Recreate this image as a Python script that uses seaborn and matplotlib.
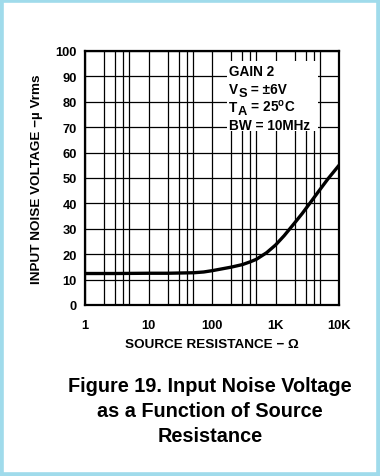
'''
Input noise voltage vs source resistance (datasheet figure 19)
'''

import matplotlib
matplotlib.use('Agg')
import matplotlib.pyplot as plt
from matplotlib.patches import Rectangle
from matplotlib.ticker import LogLocator, FixedLocator, NullFormatter
import seaborn as sns
import pandas as pd

# data
source_res = [1, 3, 10, 20, 52, 74, 100, 200, 300, 400, 500, 725, 1000,
              1370, 2000, 2630, 3510, 4700, 6670, 10000]
noise_uv = [12.4, 12.4, 12.5, 12.5, 12.7, 13.0, 13.5, 14.9, 15.9, 17.0, 18.0, 20.6, 23.6,
            27.3, 32.3, 36.0, 40.2, 44.5, 49.6, 55.0]

x_ticks = [1, 10, 100, 1000, 10000]
x_ticklabels = ['1', '10', '100', '1K', '10K']
y_ticks = [0, 10, 20, 30, 40, 50, 60, 70, 80, 90, 100]

# test conditions: (main text, subscript, rest of line)
conditions = [('GAIN 2', '', ''),
              ('V', 'S', ' = ±6V'),
              ('T', 'A', r' = 25$^\mathregular{o}$C'),
              ('BW = 10MHz', '', '')]

caption = 'Figure 19. Input Noise Voltage\nas a Function of Source\nResistance'

sns.set_style('white')
plt.rcParams['font.family'] = ['Liberation Sans', 'DejaVu Sans']
plt.rcParams['font.weight'] = 'bold'
plt.rcParams.update({'text.color': 'black', 'axes.labelcolor': 'black',
                     'xtick.color': 'black', 'ytick.color': 'black'})

df = pd.DataFrame({'res': source_res, 'noise': noise_uv})

fig = plt.figure(figsize=(3.8, 4.77), dpi=100)
ax = fig.add_axes([85 / 380, 1 - 306 / 477, 254 / 380, 254 / 477])

sns.lineplot(x='res', y='noise', data=df, ax=ax, color='black',
             linewidth=2.4, estimator=None, zorder=5)

ax.set_xscale('log')
ax.set_xlim(1, 10000)
ax.set_ylim(0, 100)
ax.xaxis.set_major_locator(FixedLocator(x_ticks))
ax.set_xticklabels(x_ticklabels)
ax.xaxis.set_minor_locator(LogLocator(base=10, subs=(2, 3, 4, 5)))
ax.xaxis.set_minor_formatter(NullFormatter())
ax.set_yticks(y_ticks)

ax.grid(True, which='both', axis='x', color='black', linewidth=0.9)
ax.grid(True, which='major', axis='y', color='black', linewidth=0.9)
ax.set_axisbelow(True)

for s in ax.spines.values():
    s.set_color('black')
    s.set_linewidth(1.6)
    s.set_zorder(6)

ax.tick_params(which='both', length=0)
ax.tick_params(axis='x', pad=10, labelsize=9.3)
ax.tick_params(axis='y', pad=6, labelsize=9.3)
for lbl in ax.get_xticklabels() + ax.get_yticklabels():
    lbl.set_fontweight('bold')

ax.set_xlabel('SOURCE RESISTANCE − Ω', fontsize=9.7, fontweight='bold', labelpad=5)
ax.set_ylabel('INPUT NOISE VOLTAGE −µ Vrms', fontsize=9.7, fontweight='bold', labelpad=9)

# white box with test conditions covering the grid
ax.add_patch(Rectangle((0.559, 0.685), 0.358, 0.276, transform=ax.transAxes,
                       facecolor='white', edgecolor='none', zorder=3))
for i, (main, sub, rest) in enumerate(conditions):
    t = ax.text(0.568, 0.923 - i * 0.071, main, transform=ax.transAxes,
                fontsize=9.8, fontweight='bold', va='center', ha='left', zorder=4)
    if sub:
        # big, lowered subscript like the datasheet
        ts = ax.annotate(sub, xy=(1, 0), xycoords=t, xytext=(0, -2.4),
                         textcoords='offset points', fontsize=9.3, fontweight='bold',
                         va='bottom', ha='left', zorder=4)
        ax.annotate(rest, xy=(1, 0), xycoords=ts, xytext=(0, 2.4),
                    textcoords='offset points', fontsize=9.8, fontweight='bold',
                    va='bottom', ha='left', zorder=4)

fig.text(0.553, 0.138, caption, ha='center', va='center', multialignment='center',
         fontsize=14.3, fontweight='bold', linespacing=1.4)

# light blue frame around the figure
fig.patches.append(Rectangle((0, 0), 1, 1, transform=fig.transFigure,
                             fill=False, edgecolor='#a0dbeb', linewidth=5.5))

fig.savefig('out.png', dpi=100)
plt.close(fig)
